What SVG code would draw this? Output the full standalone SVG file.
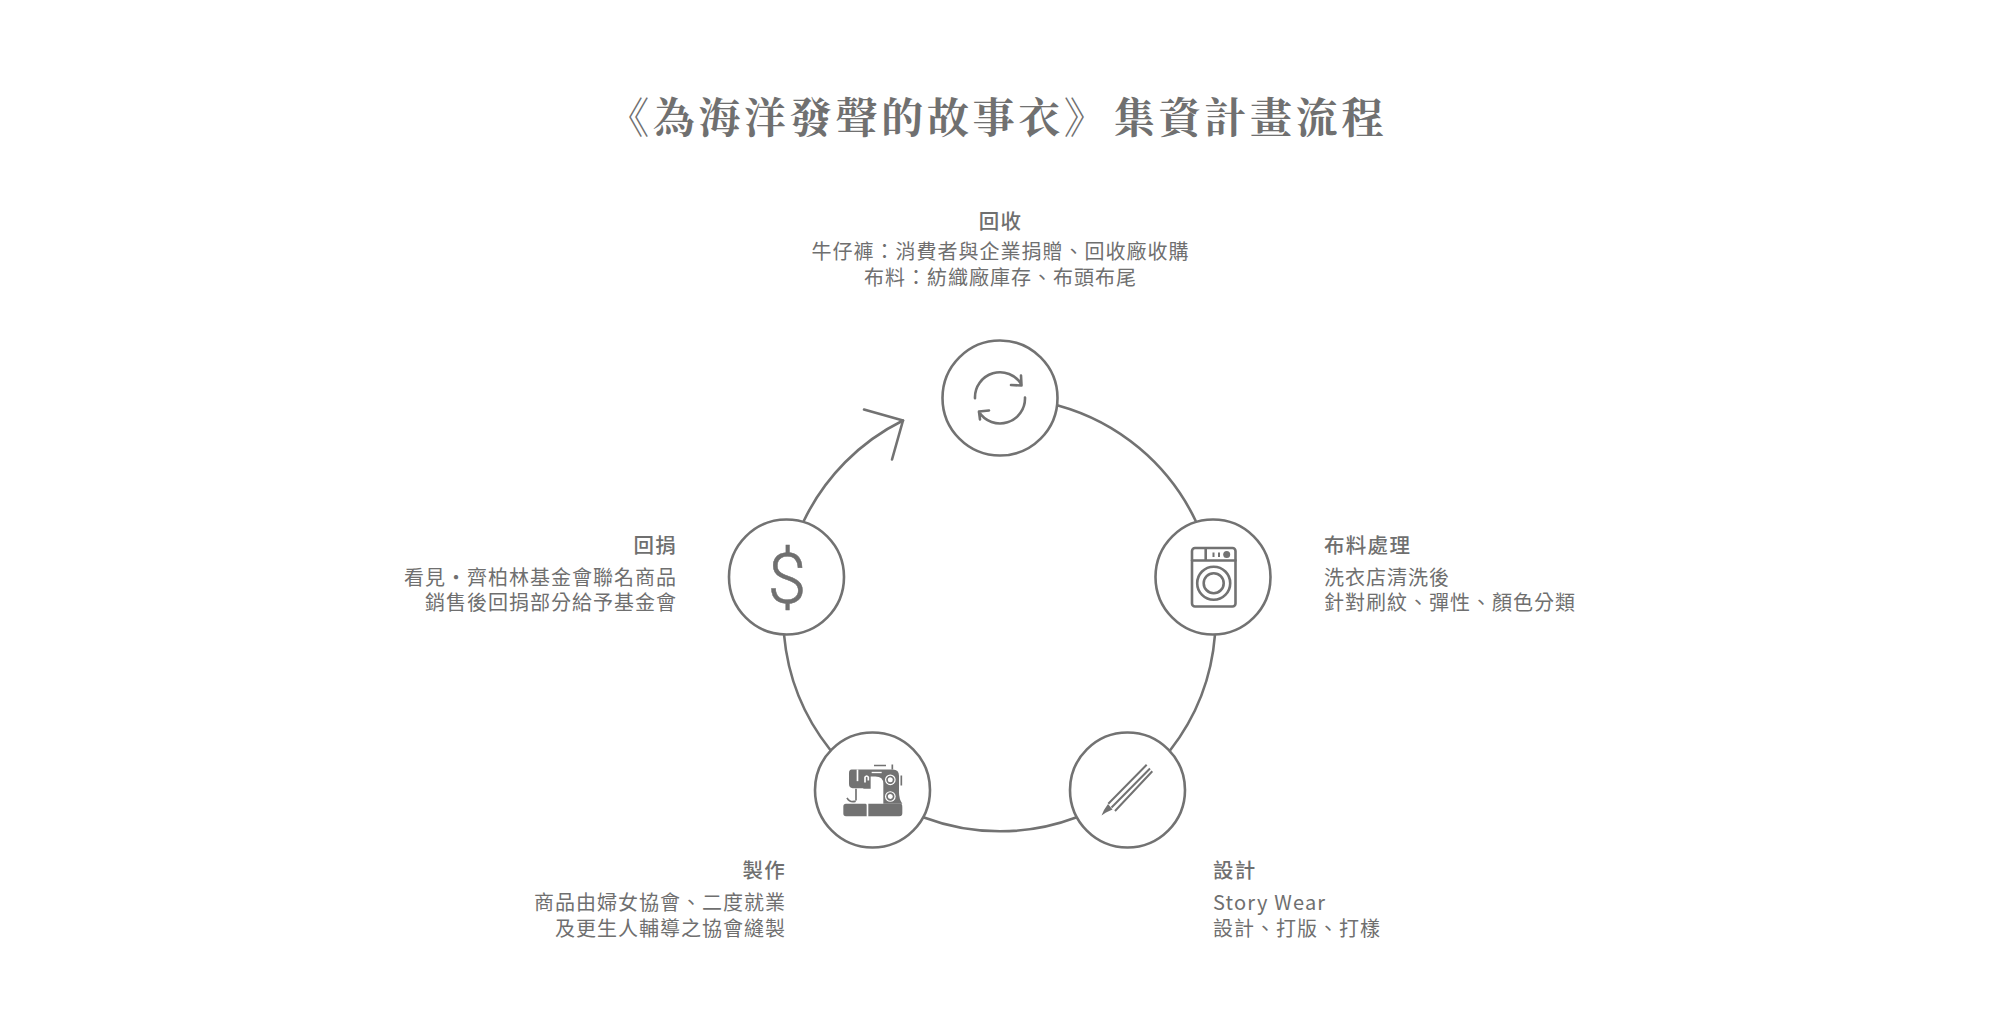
<svg xmlns="http://www.w3.org/2000/svg" width="2000" height="1033" viewBox="0 0 2000 1033">
<style>
text{font-family:"Noto Sans CJK TC","Noto Sans",sans-serif;fill:#6f6f6f;font-size:20px;letter-spacing:1px}
.title{font-family:"Noto Serif CJK TC","Noto Sans CJK TC",serif;font-size:42px;font-weight:700;letter-spacing:3.7px;word-spacing:-11px;fill:#707070}
.h{font-weight:500;font-size:20.5px;letter-spacing:1.3px}
.e{text-anchor:end}.m{text-anchor:middle}
.ring{fill:#fff;stroke:#727272;stroke-width:2.6}
.l{fill:none;stroke:#727272;stroke-width:2.6;stroke-linecap:round;stroke-linejoin:round}
.i{fill:none;stroke:#727272;stroke-width:2.6;stroke-linecap:round;stroke-linejoin:round}
.f{fill:#727272}
</style>
<rect width="2000" height="1033" fill="#fff"/>
<text class="title" x="607" y="132.5">《為海洋發聲的故事衣》 集資計畫流程</text>
<g id="connectors">
<path class="l" d="M1058,405.5A216,216 0 0 1 1195.5,520.5"/>
<path class="l" d="M1215,634.5A216,216 0 0 1 1170,750.5"/>
<path class="l" d="M1076,817.5A216,216 0 0 1 924,817.5"/>
<path class="l" d="M830,749.5A216,216 0 0 1 784,634.5"/>
<path class="l" d="M804,520.5A216,216 0 0 1 903,420.5"/>
<path class="l" d="M864,409.5L903,420.5L892,459.5"/>
</g>
<g id="node-recycle">
<circle class="ring" cx="1000" cy="398" r="57.5"/>
<path class="i" d="M975,398.2A25,25 0 0 1 1021.5,384.5M1021,375.5L1021.5,385.5L1011,385M1025,397.5A25,25 0 0 1 979,412M989,410.5L979,411.5L980,419.5"/>
<text class="h m" x="1000.5" y="229">回收</text>
<text class="m" x="1000.5" y="258.5">牛仔褲：消費者與企業捐贈、回收廠收購</text>
<text class="m" x="1000.5" y="284.5">布料：紡織廠庫存、布頭布尾</text>
</g>
<g id="node-fabric">
<circle class="ring" cx="1213" cy="577" r="57.5"/>
<rect class="i" x="1192" y="548" width="43.5" height="58.5" rx="3"/>
<path class="i" d="M1192,560.5H1235.5M1205.7,548.5V560.5"/>
<rect class="f" x="1212.5" y="552.5" width="2" height="4.5"/><rect class="f" x="1218" y="552.5" width="2" height="4.5"/>
<circle class="f" cx="1226.7" cy="554.5" r="3.5"/>
<circle class="i" cx="1213.7" cy="583.2" r="16.5"/><circle class="i" cx="1213.7" cy="583.2" r="10"/>
<text class="h" x="1324" y="553">布料處理</text>
<text x="1324" y="584.5">洗衣店清洗後</text>
<text x="1324" y="609.5">針對刷紋、彈性、顏色分類</text>
</g>
<g id="node-design">
<circle class="ring" cx="1127.5" cy="790" r="57.5"/>
<path d="M1108.3,803.8L1146.7,764.8M1111.5,807.5L1150,768.5M1115,811L1152.3,771.2" fill="none" stroke="#727272" stroke-width="2"/>
<path class="f" d="M1108,804L1112.5,809.5L1106,812.5L1101.5,815.5L1104,810Z"/>
<text class="h" x="1213" y="878">設計</text>
<text x="1213" y="909.5" style="letter-spacing:1.2px">Story Wear</text>
<text x="1213" y="935.5">設計、打版、打樣</text>
</g>
<g id="node-make">
<circle class="ring" cx="872.5" cy="790" r="57.5"/>
<g transform="translate(800 720.5) scale(.3333)">
<path class="f" d="M138,250H196Q200,250 200,254V287H138Q130,287 130,279V258Q130,250 138,250ZM205,250H302Q307,250 307,260V278Q307,287 298,287H205Z"/>
<path class="f" d="M155,147H278Q297,147 297,166V215Q297,235 307,250H250V190Q250,168 226,168H212V205H190V203H158Q147,203 147,190V158Q147,147 155,147Z"/>
<rect x="170" y="147" width="5" height="35" fill="#fff"/><rect x="215" y="154" width="30" height="4" fill="#fff"/>
<path d="M195,186V170Q200,163 205,170V180" fill="none" stroke="#fff" stroke-width="5"/>
<circle cx="271" cy="178" r="16" fill="#fff"/><circle cx="271" cy="178" r="10" fill="none" stroke="#727272" stroke-width="5"/>
<circle cx="271" cy="228" r="16" fill="#fff"/><circle cx="271" cy="228" r="10" fill="none" stroke="#727272" stroke-width="5"/>
<path d="M222,135H258M277,132V147M304,165V195M168,205V240M141,232Q150,248 167,242" fill="none" stroke="#727272" stroke-width="5"/>
</g>
<text class="h e" x="786" y="878">製作</text>
<text class="e" x="786" y="909.5">商品由婦女協會、二度就業</text>
<text class="e" x="786" y="935.5">及更生人輔導之協會縫製</text>
</g>
<g id="node-donate">
<circle class="ring" cx="786.5" cy="577" r="57.5"/>
<text class="m" x="787" y="603" style="font-family:Roboto,sans-serif;font-weight:300;font-size:70px;letter-spacing:0;stroke:#6f6f6f;stroke-width:.5">$</text>
<text class="h e" x="677" y="553">回捐</text>
<text class="e" x="677" y="584.5">看見・齊柏林基金會聯名商品</text>
<text class="e" x="677" y="609.5">銷售後回捐部分給予基金會</text>
</g>
</svg>
